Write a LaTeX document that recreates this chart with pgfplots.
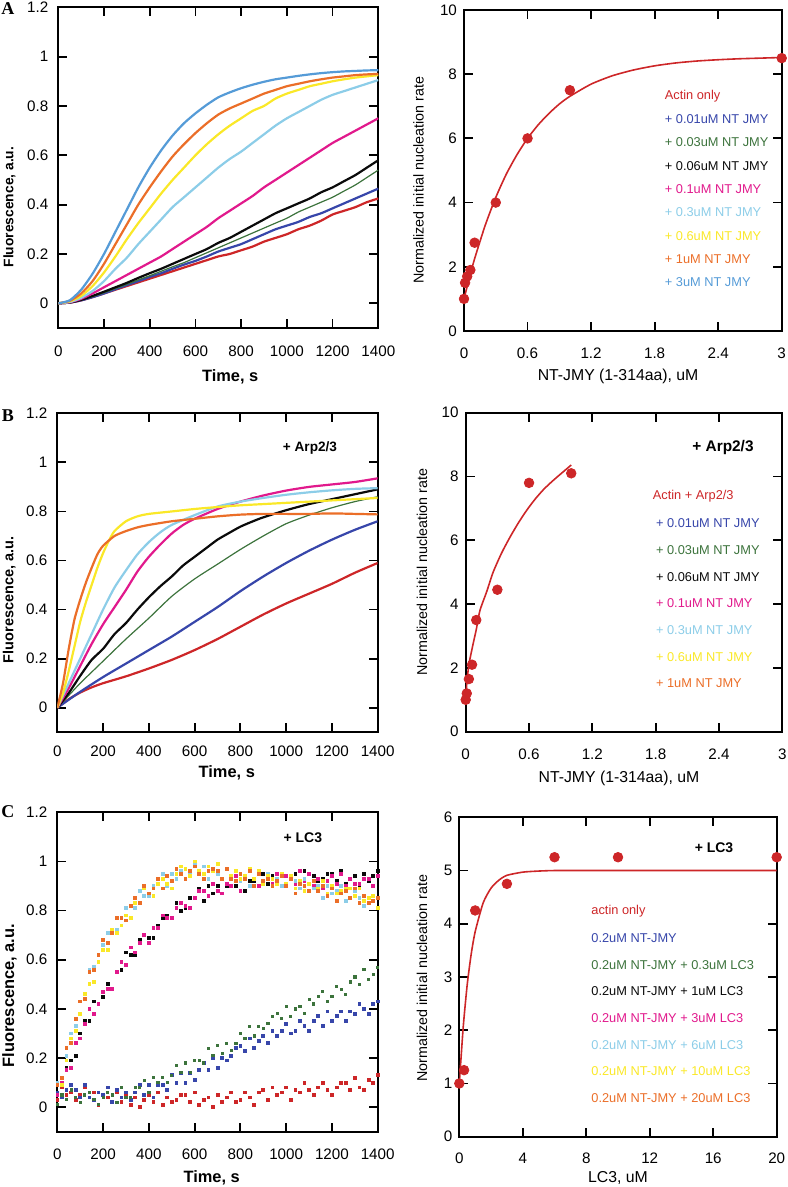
\documentclass[border=0pt]{standalone}
\usepackage{fontspec}
\setmainfont{Liberation Sans}
\newfontfamily\panelfont{Liberation Serif}
\usepackage{pgfplots}
\usepackage{pgfplotstable}
\pgfplotsset{compat=1.18}

\definecolor{cred}{RGB}{205,38,40}
\definecolor{cblue}{RGB}{55,70,170}
\definecolor{cgreen}{RGB}{60,115,60}
\definecolor{cblack}{RGB}{10,10,10}
\definecolor{cmag}{RGB}{225,25,140}
\definecolor{clblue}{RGB}{140,205,232}
\definecolor{cyellow}{RGB}{250,232,40}
\definecolor{corange}{RGB}{235,110,40}
\definecolor{csky}{RGB}{85,155,215}

% panel A kinetics, every 50 s
\pgfplotstableread{
t    r     b     g     k     m     lb    yel   o     sb
0    0     0     0     0     0     0     0     0     0
50   0.003 0.003 0.003 0.003 0.004 0.005 0.008 0.010 0.012
100  0.012 0.012 0.013 0.014 0.018 0.022 0.030 0.040 0.055
150  0.025 0.025 0.027 0.030 0.040 0.050 0.070 0.090 0.120
200  0.040 0.040 0.043 0.047 0.065 0.090 0.125 0.160 0.200
250  0.055 0.057 0.060 0.065 0.090 0.140 0.190 0.240 0.290
300  0.070 0.074 0.077 0.083 0.115 0.185 0.260 0.320 0.380
350  0.085 0.090 0.095 0.103 0.140 0.240 0.325 0.400 0.470
400  0.100 0.107 0.112 0.122 0.165 0.290 0.385 0.470 0.550
450  0.115 0.122 0.130 0.140 0.190 0.340 0.445 0.535 0.620
500  0.130 0.140 0.148 0.160 0.220 0.390 0.500 0.595 0.680
550  0.145 0.157 0.165 0.180 0.250 0.430 0.550 0.645 0.730
600  0.160 0.172 0.185 0.200 0.280 0.470 0.600 0.690 0.770
650  0.175 0.190 0.205 0.220 0.310 0.510 0.645 0.730 0.805
700  0.190 0.210 0.225 0.245 0.345 0.550 0.685 0.765 0.835
750  0.200 0.225 0.245 0.265 0.375 0.585 0.720 0.790 0.855
800  0.215 0.240 0.265 0.290 0.405 0.615 0.750 0.810 0.872
850  0.230 0.260 0.285 0.315 0.435 0.650 0.780 0.830 0.886
900  0.250 0.280 0.305 0.340 0.470 0.685 0.800 0.850 0.898
950  0.265 0.300 0.325 0.365 0.500 0.720 0.830 0.865 0.908
1000 0.280 0.315 0.345 0.385 0.530 0.750 0.850 0.880 0.915
1050 0.300 0.330 0.370 0.405 0.560 0.775 0.865 0.890 0.922
1100 0.315 0.350 0.390 0.425 0.590 0.800 0.880 0.900 0.928
1150 0.335 0.365 0.410 0.450 0.620 0.825 0.890 0.908 0.933
1200 0.360 0.385 0.430 0.470 0.650 0.845 0.900 0.915 0.937
1250 0.375 0.405 0.455 0.495 0.675 0.860 0.908 0.920 0.940
1300 0.390 0.425 0.480 0.520 0.700 0.875 0.915 0.925 0.942
1350 0.410 0.445 0.510 0.550 0.725 0.890 0.920 0.928 0.944
1400 0.425 0.465 0.540 0.580 0.750 0.905 0.925 0.930 0.945
}\tabA

% panel C kinetics, every 20 s
\pgfplotstableread{
t    r    b    g    k    m    lb   yel  o
0    0.03 0.06 0.01 0.05 0.05 0.10 0.09 0.09
20   0.08 0.04 0.05 0.09 0.10 0.12 0.09 0.12
40   0.05 0.07 0.03 0.16 0.15 0.21 0.19 0.24
60   0.06 0.09 0.07 0.19 0.16 0.30 0.28 0.26
80   0.03 0.07 0.04 0.21 0.26 0.33 0.31 0.36
100  0.05 0.04 0.02 0.30 0.28 0.43 0.38 0.43
120  0.08 0.09 0.05 0.35 0.34 0.46 0.46 0.44
140  0.04 0.04 0.06 0.35 0.40 0.56 0.50 0.55
160  0.06 0.03 0.03 0.43 0.38 0.57 0.51 0.56
180  0.01 0.06 0.01 0.42 0.42 0.59 0.59 0.62
200  0.05 0.05 0.04 0.45 0.47 0.66 0.64 0.68
220  0.04 0.08 0.06 0.50 0.48 0.71 0.64 0.67
240  0.02 0.02 0.05 0.48 0.48 0.71 0.72 0.71
260  0.06 0.07 0.02 0.55 0.55 0.72 0.71 0.77
280  0.02 0.04 0.08 0.56 0.59 0.77 0.74 0.77
300  0.05 0.06 0.04 0.63 0.58 0.81 0.78 0.76
320  0.01 0.03 0.04 0.62 0.65 0.82 0.77 0.82
340  0.04 0.06 0.08 0.62 0.63 0.81 0.83 0.85
360  0.00 0.09 0.08 0.68 0.67 0.88 0.83 0.83
380  0.03 0.05 0.11 0.70 0.70 0.86 0.89 0.90
400  0.05 0.09 0.06 0.69 0.67 0.86 0.87 0.87
420  0.02 0.04 0.12 0.69 0.73 0.90 0.86 0.89
440  0.06 0.09 0.10 0.74 0.73 0.91 0.91 0.93
460  0.01 0.09 0.12 0.77 0.78 0.95 0.93 0.89
480  0.04 0.07 0.10 0.78 0.77 0.90 0.91 0.94
500  0.02 0.13 0.13 0.77 0.77 0.95 0.89 0.92
520  0.03 0.10 0.17 0.83 0.81 0.93 0.95 0.97
540  0.05 0.14 0.14 0.80 0.83 0.96 0.98 0.95
560  0.05 0.10 0.18 0.81 0.82 0.93 0.97 0.93
580  0.02 0.14 0.14 0.85 0.81 0.95 0.94 0.96
600  0.06 0.11 0.19 0.85 0.85 0.99 1.00 0.98
620  0.01 0.15 0.19 0.89 0.88 0.95 0.96 0.95
640  0.03 0.18 0.18 0.84 0.88 0.98 0.95 0.93
660  0.04 0.15 0.24 0.90 0.86 0.93 0.98 0.96
680  0.00 0.20 0.21 0.87 0.91 0.96 0.96 0.97
700  0.05 0.16 0.25 0.90 0.88 0.95 0.99 0.96
720  0.02 0.20 0.22 0.87 0.87 0.93 0.93 0.93
740  0.04 0.19 0.26 0.90 0.91 0.97 0.97 0.97
760  0.06 0.21 0.23 0.93 0.90 0.93 0.94 0.93
780  0.02 0.24 0.26 0.90 0.94 0.96 0.96 0.92
800  0.03 0.25 0.30 0.93 0.88 0.92 0.93 0.95
820  0.06 0.23 0.28 0.88 0.93 0.94 0.94 0.93
840  0.04 0.28 0.33 0.92 0.90 0.90 0.97 0.96
860  0.01 0.24 0.29 0.92 0.93 0.93 0.93 0.90
880  0.06 0.27 0.33 0.90 0.90 0.95 0.96 0.95
900  0.07 0.29 0.32 0.95 0.92 0.92 0.91 0.92
920  0.03 0.26 0.34 0.91 0.95 0.95 0.94 0.93
940  0.08 0.31 0.37 0.94 0.91 0.90 0.93 0.90
960  0.05 0.29 0.38 0.91 0.95 0.93 0.91 0.92
980  0.06 0.31 0.36 0.94 0.90 0.90 0.95 0.94
1000 0.08 0.34 0.41 0.90 0.94 0.91 0.91 0.90
1020 0.03 0.30 0.37 0.93 0.93 0.93 0.94 0.93
1040 0.07 0.31 0.40 0.95 0.91 0.92 0.89 0.87
1060 0.06 0.35 0.41 0.92 0.96 0.89 0.92 0.91
1080 0.10 0.33 0.38 0.96 0.92 0.93 0.88 0.90
1100 0.07 0.31 0.44 0.91 0.95 0.88 0.91 0.88
1120 0.05 0.35 0.42 0.94 0.90 0.89 0.92 0.92
1140 0.08 0.37 0.45 0.92 0.93 0.90 0.89 0.88
1160 0.10 0.33 0.47 0.93 0.89 0.85 0.92 0.90
1180 0.07 0.39 0.43 0.95 0.92 0.90 0.87 0.86
1200 0.05 0.35 0.45 0.95 0.94 0.87 0.90 0.89
1220 0.08 0.37 0.49 0.92 0.91 0.88 0.87 0.84
1240 0.10 0.39 0.48 0.96 0.95 0.90 0.88 0.87
1260 0.10 0.35 0.46 0.91 0.90 0.84 0.89 0.88
1280 0.07 0.39 0.51 0.93 0.93 0.85 0.89 0.85
1300 0.12 0.38 0.53 0.94 0.91 0.88 0.86 0.89
1320 0.08 0.42 0.50 0.90 0.91 0.85 0.89 0.83
1340 0.07 0.40 0.56 0.95 0.93 0.82 0.84 0.86
1360 0.11 0.38 0.52 0.92 0.93 0.85 0.85 0.83
1380 0.10 0.42 0.54 0.94 0.90 0.86 0.86 0.84
1400 0.13 0.43 0.57 0.96 0.94 0.81 0.81 0.85
}\tabC

\pgfplotsset{
  base/.style={scale only axis, anchor=south west,
    tick align=inside, major tick length=4.5pt,
    axis line style={line width=0.9pt},
    every tick/.append style={line width=0.9pt, black},
    /pgf/number format/assume math mode=true,
    /pgf/number format/1000 sep={},
    scaled ticks=false,
    tick label style={font=\fontsize{7.6}{9}\selectfont},
    xlabel style={anchor=center}, ylabel style={anchor=center}},
  kin/.style={base, xmin=0, xmax=1400, ymin=-0.1, ymax=1.2,
    xtick={0,200,...,1400}, ytick={0,0.2,0.4,0.6,0.8,1,1.2},
    yticklabel style={xshift=-1.5pt},
    xlabel={Time, s}, ylabel={Fluorescence, a.u.},
    xlabel style={font=\bfseries\fontsize{8.2}{10}\selectfont}},
  rate/.style={base, ymin=0,
    ylabel={Normalized initial nucleation rate},
    xlabel style={font=\fontsize{7.9}{9}\selectfont},
    ylabel style={font=\fontsize{7.15}{9}\selectfont}},
  kline/.style={line width=1.1pt, no marks, smooth, tension=0.4},
  kdot/.style={only marks, mark=square*, mark size=0.7pt},
  rdot/.style={only marks, mark=*, mark size=2.4pt, cred},
  rfit/.style={cred, line width=0.8pt, no marks, smooth, tension=0.4}
}
\tikzset{leg/.style={anchor=west, font=\fontsize{6.4}{8}\selectfont}}

\begin{document}
\begin{tikzpicture}
\path[use as bounding box] (0,0) rectangle (393.5pt,593.5pt);
\node[font=\panelfont\bfseries\fontsize{9}{10}\selectfont] at (4pt,589pt) {A};
\node[font=\panelfont\bfseries\fontsize{9}{10}\selectfont] at (4pt,385.5pt) {B};
\node[font=\panelfont\bfseries\fontsize{9}{10}\selectfont] at (4pt,187.5pt) {C};

% ---------- A left
\begin{axis}[kin, at={(29.15pt,429.5pt)}, width=160pt, height=160.35pt,
  xticklabel style={yshift=-5.3pt},
  xlabel style={at={(axis description cs:0.537,-0.153)}},
  ylabel style={at={(axis description cs:-0.153,0.377)}, font=\bfseries\fontsize{6.9}{8}\selectfont}]
\addplot[kline, cred] table[x=t, y=r] {\tabA};
\addplot[kline, cblue] table[x=t, y=b] {\tabA};
\addplot[kline, cgreen, line width=0.6pt] table[x=t, y=g] {\tabA};
\addplot[kline, cblack] table[x=t, y=k] {\tabA};
\addplot[kline, cmag] table[x=t, y=m] {\tabA};
\addplot[kline, clblue] table[x=t, y=lb] {\tabA};
\addplot[kline, cyellow] table[x=t, y=yel] {\tabA};
\addplot[kline, corange] table[x=t, y=o] {\tabA};
\addplot[kline, csky] table[x=t, y=sb] {\tabA};
\end{axis}

% ---------- A right
\begin{axis}[rate, at={(232pt,428pt)}, width=158.85pt, height=160.5pt,
  xmin=0, xmax=3, ymax=10, xtick={0,0.6,1.2,1.8,2.4,3}, ytick={0,2,...,10},
  xticklabel style={yshift=-5pt},
  xlabel={NT-JMY (1-314aa), uM},
  xlabel style={at={(axis description cs:0.485,-0.142)}},
  ylabel style={at={(axis description cs:-0.143,0.47)}}]
\addplot[rfit] coordinates {(0,1) (0.05,1.65) (0.1,2.25) (0.2,3.29) (0.3,4.16) (0.4,4.89) (0.5,5.49) (0.6,6.0) (0.7,6.42) (0.8,6.77) (0.9,7.07) (1,7.31) (1.2,7.69) (1.4,7.95) (1.6,8.13) (1.8,8.26) (2,8.35) (2.2,8.41) (2.4,8.45) (2.6,8.48) (2.8,8.5) (3,8.52)};
\addplot[rdot] coordinates {(0,1) (0.01,1.5) (0.03,1.7) (0.06,1.9) (0.1,2.75) (0.3,4) (0.6,6) (1,7.5) (3,8.5)};
\node[leg, text=cred] at (axis cs:1.83,7.32) {Actin only};
\node[leg, text=cblue] at (axis cs:1.83,6.59) {+ 0.01uM NT JMY};
\node[leg, text=cgreen] at (axis cs:1.83,5.87) {+ 0.03uM NT JMY};
\node[leg, text=cblack] at (axis cs:1.83,5.14) {+ 0.06uM NT JMY};
\node[leg, text=cmag] at (axis cs:1.83,4.41) {+ 0.1uM NT JMY};
\node[leg, text=clblue] at (axis cs:1.83,3.69) {+ 0.3uM NT JMY};
\node[leg, text=cyellow] at (axis cs:1.83,2.96) {+ 0.6uM NT JMY};
\node[leg, text=corange] at (axis cs:1.83,2.24) {+ 1uM NT JMY};
\node[leg, text=csky] at (axis cs:1.83,1.51) {+ 3uM NT JMY};
\end{axis}

% ---------- B left
\begin{axis}[kin, at={(28.65pt,227.35pt)}, width=160.2pt, height=159.5pt,
  xticklabel style={yshift=-3.4pt},
  xlabel style={at={(axis description cs:0.529,-0.128)}},
  ylabel style={at={(axis description cs:-0.150,0.415)}, font=\bfseries\fontsize{7.25}{8}\selectfont}]
\addplot[kline, cred] coordinates {(0,0) (50,0.035) (100,0.062) (150,0.083) (200,0.1) (300,0.128) (400,0.16) (500,0.195) (600,0.235) (700,0.28) (800,0.33) (900,0.38) (1000,0.425) (1100,0.465) (1200,0.505) (1300,0.55) (1400,0.59)};
\addplot[kline, cblue] coordinates {(0,0) (100,0.065) (200,0.125) (300,0.18) (400,0.235) (500,0.29) (600,0.35) (700,0.41) (800,0.475) (900,0.535) (1000,0.59) (1100,0.64) (1200,0.685) (1300,0.725) (1400,0.76)};
\addplot[kline, cgreen, line width=0.6pt] coordinates {(0,0) (50,0.05) (100,0.1) (150,0.145) (200,0.19) (300,0.28) (400,0.365) (500,0.454) (600,0.525) (700,0.585) (800,0.645) (900,0.7) (1000,0.75) (1100,0.785) (1200,0.815) (1300,0.84) (1400,0.86)};
\addplot[kline, cblack] coordinates {(0,0) (50,0.06) (100,0.13) (150,0.195) (200,0.24) (250,0.3) (300,0.345) (350,0.4) (400,0.45) (450,0.495) (500,0.535) (550,0.58) (600,0.615) (650,0.65) (700,0.685) (750,0.712) (800,0.738) (850,0.758) (900,0.776) (1000,0.805) (1100,0.83) (1200,0.85) (1300,0.87) (1400,0.89)};
\addplot[kline, cmag] coordinates {(0,0) (50,0.08) (100,0.17) (150,0.26) (200,0.34) (250,0.41) (300,0.48) (350,0.555) (400,0.615) (450,0.665) (500,0.71) (550,0.745) (600,0.77) (700,0.81) (800,0.84) (900,0.865) (1000,0.885) (1100,0.9) (1200,0.91) (1300,0.92) (1400,0.935)};
\addplot[kline, clblue] coordinates {(0,0) (50,0.1) (100,0.2) (150,0.3) (200,0.4) (250,0.49) (300,0.56) (350,0.625) (400,0.675) (450,0.715) (500,0.745) (600,0.785) (700,0.82) (800,0.84) (900,0.855) (1000,0.868) (1100,0.878) (1200,0.886) (1300,0.892) (1400,0.895)};
\addplot[kline, cyellow] coordinates {(0,0) (25,0.06) (50,0.15) (75,0.25) (100,0.35) (125,0.43) (150,0.5) (175,0.57) (200,0.63) (225,0.68) (250,0.72) (300,0.76) (350,0.78) (400,0.79) (500,0.8) (600,0.81) (700,0.818) (800,0.825) (900,0.83) (1000,0.835) (1100,0.84) (1200,0.845) (1300,0.85) (1400,0.855)};
\addplot[kline, corange] coordinates {(0,0) (25,0.1) (50,0.24) (75,0.36) (100,0.44) (125,0.51) (150,0.57) (175,0.625) (200,0.66) (250,0.7) (300,0.72) (350,0.735) (400,0.745) (500,0.76) (600,0.77) (700,0.78) (800,0.787) (900,0.79) (1000,0.79) (1100,0.79) (1200,0.792) (1300,0.79) (1400,0.788)};
\node[font=\bfseries\fontsize{6.8}{8}\selectfont] at (axis cs:1104,1.059) {+ Arp2/3};
\end{axis}

% ---------- B right
\begin{axis}[rate, at={(232.85pt,227.65pt)}, width=158.3pt, height=159.5pt,
  xmin=0, xmax=3, ymax=10, xtick={0,0.6,1.2,1.8,2.4,3}, ytick={0,2,...,10},
  xticklabel style={yshift=-5.3pt},
  xlabel={NT-JMY (1-314aa), uM},
  xlabel style={at={(axis description cs:0.484,-0.146)}},
  ylabel style={at={(axis description cs:-0.138,0.50)}}]
\addplot[rfit] coordinates {(0,1) (0.01,1.5) (0.03,2.1) (0.07,2.75) (0.1,3.2) (0.135,3.8) (0.2,4.4) (0.26,5.0) (0.34,5.6) (0.42,6.1) (0.5,6.55) (0.58,6.95) (0.66,7.3) (0.74,7.6) (0.82,7.85) (0.9,8.08) (1.0,8.36)};
\addplot[rdot] coordinates {(0,1) (0.01,1.2) (0.03,1.65) (0.06,2.1) (0.1,3.5) (0.3,4.45) (0.6,7.8) (1,8.1)};
\node[font=\bfseries\fontsize{7.7}{9}\selectfont] at (axis cs:2.438,8.92) {+ Arp2/3};
\node[leg, text=cred] at (axis cs:1.706,7.37) {Actin + Arp2/3};
\node[leg, text=cblue] at (axis cs:1.737,6.53) {+ 0.01uM NT JMY};
\node[leg, text=cgreen] at (axis cs:1.737,5.70) {+ 0.03uM NT JMY};
\node[leg, text=cblack] at (axis cs:1.737,4.86) {+ 0.06uM NT JMY};
\node[leg, text=cmag] at (axis cs:1.737,4.03) {+ 0.1uM NT JMY};
\node[leg, text=clblue] at (axis cs:1.737,3.19) {+ 0.3uM NT JMY};
\node[leg, text=cyellow] at (axis cs:1.737,2.35) {+ 0.6uM NT JMY};
\node[leg, text=corange] at (axis cs:1.737,1.52) {+ 1uM NT JMY};
\end{axis}

% ---------- C left
\begin{axis}[kin, at={(28.65pt,27.65pt)}, width=160.2pt, height=159.7pt,
  xticklabel style={yshift=-5.1pt},
  xlabel style={at={(axis description cs:0.482,-0.145)}},
  ylabel style={at={(axis description cs:-0.149,0.426)}, font=\bfseries\fontsize{8.2}{9}\selectfont}]
\addplot[kdot, cred] table[x=t, y=r] {\tabC};
\addplot[kdot, cblue] table[x=t, y=b] {\tabC};
\addplot[kdot, cgreen, mark size=0.55pt] table[x=t, y=g] {\tabC};
\addplot[kdot, cblack] table[x=t, y=k] {\tabC};
\addplot[kdot, cmag] table[x=t, y=m] {\tabC};
\addplot[kdot, clblue] table[x=t, y=lb] {\tabC};
\addplot[kdot, cyellow] table[x=t, y=yel] {\tabC};
\addplot[kdot, corange] table[x=t, y=o] {\tabC};
\node[font=\bfseries\fontsize{7}{8}\selectfont] at (axis cs:1073,1.096) {+ LC3};
\end{axis}

% ---------- C right
\begin{axis}[rate, at={(229.65pt,25.15pt)}, width=158.7pt, height=159.7pt,
  xmin=0, xmax=20, ymax=6, xtick={0,4,...,20}, ytick={0,1,...,6},
  xticklabel style={yshift=-4.6pt},
  xlabel={LC3, uM},
  xlabel style={at={(axis description cs:0.50,-0.13)}},
  ylabel style={at={(axis description cs:-0.1175,0.496)}}]
\addplot[rfit] coordinates {(0,1) (0.25,2.07) (0.5,2.86) (0.75,3.43) (1,3.85) (1.5,4.39) (2,4.67) (2.5,4.82) (3,4.91) (4,4.97) (5,4.99) (6,5) (8,5) (20,5)};
\addplot[rdot] coordinates {(0,1) (0.3,1.25) (1,4.25) (3,4.75) (6,5.25) (10,5.25) (20,5.25)};
\node[font=\bfseries\fontsize{7}{8}\selectfont] at (axis cs:16.05,5.42) {+ LC3};
\node[leg, text=cred] at (axis cs:7.88,4.23) {actin only};
\node[leg, text=cblue] at (axis cs:7.88,3.73) {0.2uM NT-JMY};
\node[leg, text=cgreen] at (axis cs:7.88,3.23) {0.2uM NT-JMY + 0.3uM LC3};
\node[leg, text=cblack] at (axis cs:7.88,2.73) {0.2uM NT-JMY + 1uM LC3};
\node[leg, text=cmag] at (axis cs:7.88,2.23) {0.2uM NT-JMY + 3uM LC3};
\node[leg, text=clblue] at (axis cs:7.88,1.73) {0.2uM NT-JMY + 6uM LC3};
\node[leg, text=cyellow] at (axis cs:7.88,1.23) {0.2uM NT-JMY + 10uM LC3};
\node[leg, text=corange] at (axis cs:7.88,0.73) {0.2uM NT-JMY + 20uM LC3};
\end{axis}
\end{tikzpicture}
\end{document}
